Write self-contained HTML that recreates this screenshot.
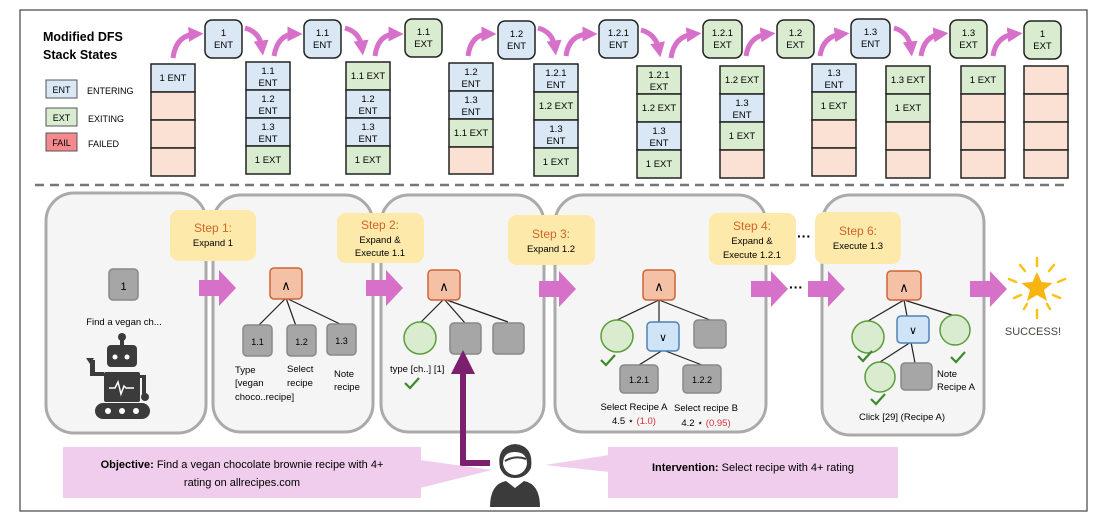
<!DOCTYPE html>
<html><head><meta charset="utf-8"><style>
html,body{margin:0;padding:0;background:#fff;}
svg{display:block;font-family:"Liberation Sans",Arial,sans-serif;}
</style></head><body>
<svg width="1099" height="522" viewBox="0 0 1099 522" xmlns="http://www.w3.org/2000/svg">
<defs>
<marker id="ah" markerWidth="3" markerHeight="3" refX="1.5" refY="1.5" orient="auto" markerUnits="strokeWidth"><path d="M0,0 L3,1.5 L0,3 z" fill="#d670c8"/></marker>
<marker id="pa" markerWidth="4" markerHeight="4" refX="1" refY="2" orient="auto" markerUnits="strokeWidth"><path d="M0,0 L4,2 L0,4 z" fill="#7b1f6e"/></marker>
</defs>
<rect x="20" y="10" width="1067" height="501" fill="#fff" stroke="#444" stroke-width="1.2"/>
<line x1="35" y1="185" x2="1070" y2="185" stroke="#777" stroke-width="2.5" stroke-dasharray="9,6"/>

<text x="43" y="41" font-size="12.5" font-weight="bold">Modified DFS</text>
<text x="43" y="59" font-size="12.5" font-weight="bold">Stack States</text>
<g font-size="9">
<rect x="46" y="80" width="31" height="18" fill="#dae8f5" stroke="#555"/><text x="61.5" y="93" text-anchor="middle">ENT</text><text x="87" y="94">ENTERING</text>
<rect x="46" y="108" width="31" height="18" fill="#d9ecd0" stroke="#555"/><text x="61.5" y="121" text-anchor="middle">EXT</text><text x="88" y="122">EXITING</text>
<rect x="46" y="133" width="31" height="18" fill="#f48a8e" stroke="#555"/><text x="61.5" y="146" text-anchor="middle">FAIL</text><text x="88" y="147">FAILED</text>
</g>

<g stroke="#222" stroke-width="1.5" font-size="9.5" text-anchor="middle">
<g transform="translate(151,64)"><rect width="44" height="28" fill="#dae8f5"/><text x="22" y="17" stroke="none">1 ENT</text><rect y="28" width="44" height="28" fill="#fbe0d4"/><rect y="56" width="44" height="28" fill="#fbe0d4"/><rect y="84" width="44" height="28" fill="#fbe0d4"/></g>
<g transform="translate(246,62)"><rect width="44" height="28" fill="#dae8f5"/><text x="22" y="12" stroke="none">1.1</text><text x="22" y="24" stroke="none">ENT</text><rect y="28" width="44" height="28" fill="#dae8f5"/><text x="22" y="40" stroke="none">1.2</text><text x="22" y="52" stroke="none">ENT</text><rect y="56" width="44" height="28" fill="#dae8f5"/><text x="22" y="68" stroke="none">1.3</text><text x="22" y="80" stroke="none">ENT</text><rect y="84" width="44" height="28" fill="#d9ecd0"/><text x="22" y="101" stroke="none">1 EXT</text></g>
<g transform="translate(346,62)"><rect width="44" height="28" fill="#d9ecd0"/><text x="22" y="17" stroke="none">1.1 EXT</text><rect y="28" width="44" height="28" fill="#dae8f5"/><text x="22" y="40" stroke="none">1.2</text><text x="22" y="52" stroke="none">ENT</text><rect y="56" width="44" height="28" fill="#dae8f5"/><text x="22" y="68" stroke="none">1.3</text><text x="22" y="80" stroke="none">ENT</text><rect y="84" width="44" height="28" fill="#d9ecd0"/><text x="22" y="101" stroke="none">1 EXT</text></g>
<g transform="translate(449,63)"><rect width="44" height="28" fill="#dae8f5"/><text x="22" y="12" stroke="none">1.2</text><text x="22" y="24" stroke="none">ENT</text><rect y="28" width="44" height="28" fill="#dae8f5"/><text x="22" y="40" stroke="none">1.3</text><text x="22" y="52" stroke="none">ENT</text><rect y="56" width="44" height="28" fill="#d9ecd0"/><text x="22" y="73" stroke="none">1.1 EXT</text><rect y="84" width="44" height="27" fill="#fbe0d4"/></g>
<g transform="translate(534,64)"><rect width="44" height="28" fill="#dae8f5"/><text x="22" y="12" stroke="none">1.2.1</text><text x="22" y="24" stroke="none">ENT</text><rect y="28" width="44" height="28" fill="#d9ecd0"/><text x="22" y="45" stroke="none">1.2 EXT</text><rect y="56" width="44" height="28" fill="#dae8f5"/><text x="22" y="68" stroke="none">1.3</text><text x="22" y="80" stroke="none">ENT</text><rect y="84" width="44" height="28" fill="#d9ecd0"/><text x="22" y="101" stroke="none">1 EXT</text></g>
<g transform="translate(637,66)"><rect width="44" height="28" fill="#d9ecd0"/><text x="22" y="12" stroke="none">1.2.1</text><text x="22" y="24" stroke="none">EXT</text><rect y="28" width="44" height="28" fill="#d9ecd0"/><text x="22" y="45" stroke="none">1.2 EXT</text><rect y="56" width="44" height="28" fill="#dae8f5"/><text x="22" y="68" stroke="none">1.3</text><text x="22" y="80" stroke="none">ENT</text><rect y="84" width="44" height="28" fill="#d9ecd0"/><text x="22" y="101" stroke="none">1 EXT</text></g>
<g transform="translate(720,66)"><rect width="44" height="28" fill="#d9ecd0"/><text x="22" y="17" stroke="none">1.2 EXT</text><rect y="28" width="44" height="28" fill="#dae8f5"/><text x="22" y="40" stroke="none">1.3</text><text x="22" y="52" stroke="none">ENT</text><rect y="56" width="44" height="28" fill="#d9ecd0"/><text x="22" y="73" stroke="none">1 EXT</text><rect y="84" width="44" height="28" fill="#fbe0d4"/></g>
<g transform="translate(812,64)"><rect width="44" height="28" fill="#dae8f5"/><text x="22" y="12" stroke="none">1.3</text><text x="22" y="24" stroke="none">ENT</text><rect y="28" width="44" height="28" fill="#d9ecd0"/><text x="22" y="45" stroke="none">1 EXT</text><rect y="56" width="44" height="28" fill="#fbe0d4"/><rect y="84" width="44" height="28" fill="#fbe0d4"/></g>
<g transform="translate(886,66)"><rect width="44" height="28" fill="#d9ecd0"/><text x="22" y="17" stroke="none">1.3 EXT</text><rect y="28" width="44" height="28" fill="#d9ecd0"/><text x="22" y="45" stroke="none">1 EXT</text><rect y="56" width="44" height="28" fill="#fbe0d4"/><rect y="84" width="44" height="28" fill="#fbe0d4"/></g>
<g transform="translate(961,66)"><rect width="44" height="28" fill="#d9ecd0"/><text x="22" y="17" stroke="none">1 EXT</text><rect y="28" width="44" height="28" fill="#fbe0d4"/><rect y="56" width="44" height="28" fill="#fbe0d4"/><rect y="84" width="44" height="28" fill="#fbe0d4"/></g>
<g transform="translate(1024,66)"><rect width="44" height="28" fill="#fbe0d4"/><rect y="28" width="44" height="28" fill="#fbe0d4"/><rect y="56" width="44" height="28" fill="#fbe0d4"/><rect y="84" width="44" height="28" fill="#fbe0d4"/></g>

<g transform="translate(205,20)"><rect width="37" height="38" rx="7" fill="#dae8f5"/><text x="18.5" y="16" stroke="none">1</text><text x="18.5" y="28" stroke="none">ENT</text></g>
<g transform="translate(304,20)"><rect width="37" height="38" rx="7" fill="#dae8f5"/><text x="18.5" y="16" stroke="none">1.1</text><text x="18.5" y="28" stroke="none">ENT</text></g>
<g transform="translate(405,19)"><rect width="37" height="38" rx="7" fill="#d9ecd0"/><text x="18.5" y="16" stroke="none">1.1</text><text x="18.5" y="28" stroke="none">EXT</text></g>
<g transform="translate(498,21)"><rect width="37" height="38" rx="7" fill="#dae8f5"/><text x="18.5" y="16" stroke="none">1.2</text><text x="18.5" y="28" stroke="none">ENT</text></g>
<g transform="translate(599,20)"><rect width="39" height="38" rx="7" fill="#dae8f5"/><text x="19.5" y="16" stroke="none">1.2.1</text><text x="19.5" y="28" stroke="none">ENT</text></g>
<g transform="translate(703,20)"><rect width="39" height="38" rx="7" fill="#d9ecd0"/><text x="19.5" y="16" stroke="none">1.2.1</text><text x="19.5" y="28" stroke="none">EXT</text></g>
<g transform="translate(777,20)"><rect width="37" height="38" rx="7" fill="#d9ecd0"/><text x="18.5" y="16" stroke="none">1.2</text><text x="18.5" y="28" stroke="none">EXT</text></g>
<g transform="translate(851,19)"><rect width="39" height="39" rx="7" fill="#dae8f5"/><text x="19.5" y="16" stroke="none">1.3</text><text x="19.5" y="28" stroke="none">ENT</text></g>
<g transform="translate(950,20)"><rect width="37" height="38" rx="7" fill="#d9ecd0"/><text x="18.5" y="16" stroke="none">1.3</text><text x="18.5" y="28" stroke="none">EXT</text></g>
<g transform="translate(1024,21)"><rect width="37" height="38" rx="7" fill="#d9ecd0"/><text x="18.5" y="16" stroke="none">1</text><text x="18.5" y="28" stroke="none">EXT</text></g>
</g>

<g fill="none" stroke="#d670c8" stroke-width="5" marker-end="url(#ah)">
<path d="M173,58 Q176,35 196,34"/>
<path d="M245,28 Q260,32 262,48"/>
<path d="M274,56 Q278,34 295,34"/>
<path d="M345,28 Q360,32 362,48"/>
<path d="M375,56 Q378,34 396,34"/>
<path d="M468,56 Q471,34 489,34"/>
<path d="M538,28 Q553,32 555,48"/>
<path d="M566,56 Q569,34 590,34"/>
<path d="M641,30 Q656,34 659,50"/>
<path d="M671,58 Q674,36 694,34"/>
<path d="M746,56 Q749,36 768,34"/>
<path d="M820,56 Q823,36 842,34"/>
<path d="M894,28 Q909,32 911,49"/>
<path d="M921,56 Q924,36 941,34"/>
<path d="M993,56 Q996,36 1015,34"/>
</g>

<g fill="#f5f5f5" stroke="#aaa" stroke-width="3">
<rect x="46" y="193" width="160" height="240" rx="28"/>
<rect x="213" y="195" width="160" height="237" rx="28"/>
<rect x="381" y="195" width="163" height="237" rx="28"/>
<rect x="555" y="195" width="211" height="237" rx="28"/>
<rect x="822" y="195" width="162" height="240" rx="28"/>
</g>

<g font-size="9.5" text-anchor="middle">
<rect x="170" y="210" width="86" height="51" rx="9" fill="#fde9aa"/><text x="213" y="232" font-size="12" fill="#d0652a">Step 1:</text><text x="213" y="246">Expand 1</text>
<rect x="337" y="213" width="87" height="50" rx="9" fill="#fde9aa"/><text x="380" y="229" font-size="12" fill="#d0652a">Step 2:</text><text x="380" y="243">Expand &amp;</text><text x="380" y="256">Execute 1.1</text>
<rect x="508" y="215" width="87" height="50" rx="9" fill="#fde9aa"/><text x="551" y="238" font-size="12" fill="#d0652a">Step 3:</text><text x="551" y="252">Expand 1.2</text>
<rect x="709" y="213" width="87" height="52" rx="9" fill="#fde9aa"/><text x="752" y="230" font-size="12" fill="#d0652a">Step 4:</text><text x="752" y="244">Expand &amp;</text><text x="752" y="258">Execute 1.2.1</text>
<rect x="815" y="212" width="86" height="52" rx="9" fill="#fde9aa"/><text x="858" y="235" font-size="12" fill="#d0652a">Step 6:</text><text x="858" y="249">Execute 1.3</text>
</g>
<text x="797" y="241" font-size="14" font-weight="bold">···</text>
<text x="789" y="292" font-size="14" font-weight="bold">···</text>

<g fill="#d670c8">
<path d="M199,280 h20 v-10 l17,18 l-17,18 v-10 h-20 z"/>
<path d="M366,280 h20 v-10 l17,18 l-17,18 v-10 h-20 z"/>
<path d="M539,281 h20 v-10 l17,18 l-17,18 v-10 h-20 z"/>
<path d="M751,281 h20 v-10 l17,18 l-17,18 v-10 h-20 z"/>
<path d="M808,281 h20 v-10 l17,18 l-17,18 v-10 h-20 z"/>
<path d="M970,281 h20 v-10 l17,18 l-17,18 v-10 h-20 z"/>
</g>

<rect x="109" y="269" width="29" height="31" rx="4" fill="#a6a6a6" stroke="#888" stroke-width="1.5"/>
<text x="123.5" y="290" font-size="11" text-anchor="middle">1</text>
<text x="124" y="325" font-size="9.5" text-anchor="middle">Find a vegan ch...</text>
<g fill="#3b3b3b">
<circle cx="122" cy="337" r="4"/><rect x="120" y="338" width="4" height="8"/>
<rect x="107" y="345" width="30" height="22" rx="4"/>
<circle cx="115" cy="357" r="2.5" fill="#fff"/><circle cx="127" cy="357" r="2.5" fill="#fff"/>
<rect x="104" y="372" width="36" height="30" rx="2"/>
<path d="M90,360 v16 h14 v-4 h-9 v-12 z"/><path d="M86,358 l4,6 4,-6 z"/>
<path d="M140,375 h6 v19 h-4 v-16 h-2 z"/><circle cx="145" cy="397" r="4"/>
<rect x="95" y="403" width="55" height="16" rx="8"/>
<circle cx="108" cy="411" r="3" fill="#fff"/><circle cx="122" cy="411" r="3" fill="#fff"/><circle cx="136" cy="411" r="3" fill="#fff"/>
</g>
<path d="M109,388 h6 l3,-6 3,12 3,-8 2,2 h8" fill="none" stroke="#fff" stroke-width="1.5"/>

<g stroke="#222" stroke-width="1.2"><line x1="286" y1="298" x2="258" y2="326"/><line x1="286" y1="298" x2="296" y2="326"/><line x1="286" y1="298" x2="340" y2="324"/></g>
<rect x="270" y="268" width="32" height="31" rx="4" fill="#f5c1a6" stroke="#cf6434" stroke-width="1.5"/><text x="286" y="290" font-size="13" text-anchor="middle">∧</text>
<g fill="#a6a6a6" stroke="#888" stroke-width="1.5"><rect x="243" y="325" width="29" height="31" rx="4"/><rect x="287" y="325" width="29" height="31" rx="4"/><rect x="327" y="324" width="29" height="31" rx="4"/></g>
<g font-size="9" text-anchor="middle"><text x="257.5" y="345">1.1</text><text x="301.5" y="345">1.2</text><text x="341.5" y="344">1.3</text></g>
<g font-size="9.5"><text x="235" y="373">Type</text><text x="235" y="386">[vegan</text><text x="235" y="400">choco..recipe]</text><text x="287" y="372">Select</text><text x="287" y="386">recipe</text><text x="334" y="377">Note</text><text x="334" y="390">recipe</text></g>

<g stroke="#222" stroke-width="1.2"><line x1="444" y1="299" x2="421" y2="322"/><line x1="444" y1="299" x2="465" y2="323"/><line x1="444" y1="299" x2="508" y2="322"/></g>
<rect x="428" y="270" width="32" height="30" rx="4" fill="#f5c1a6" stroke="#cf6434" stroke-width="1.5"/><text x="444" y="291" font-size="13" text-anchor="middle">∧</text>
<circle cx="420" cy="338" r="16" fill="#d9ecd0" stroke="#5a9d3a" stroke-width="1.5"/>
<g fill="#a6a6a6" stroke="#888" stroke-width="1.5"><rect x="450" y="323" width="31" height="31" rx="4"/><rect x="493" y="323" width="31" height="31" rx="4"/></g>
<text x="390" y="372" font-size="9.5">type [ch..] [1]</text>
<path d="M405,383 l5,5 9,-10" fill="none" stroke="#3c8a2c" stroke-width="2.2"/>

<path d="M490,463 H463 V368" fill="none" stroke="#7b1f6e" stroke-width="6" marker-end="url(#pa)"/>

<g stroke="#222" stroke-width="1.2"><line x1="659" y1="300" x2="617" y2="320"/><line x1="659" y1="300" x2="659" y2="322"/><line x1="659" y1="300" x2="710" y2="320"/><line x1="663" y1="350" x2="639" y2="365"/><line x1="663" y1="350" x2="702" y2="365"/></g>
<rect x="643" y="270" width="32" height="30" rx="4" fill="#f5c1a6" stroke="#cf6434" stroke-width="1.5"/><text x="659" y="291" font-size="13" text-anchor="middle">∧</text>
<circle cx="617" cy="336" r="16" fill="#d9ecd0" stroke="#5a9d3a" stroke-width="1.5"/>
<rect x="647" y="322" width="32" height="29" rx="4" fill="#cfe4f7" stroke="#4f82b6" stroke-width="1.5"/><text x="663" y="341" font-size="11" text-anchor="middle">∨</text>
<rect x="694" y="320" width="32" height="28" rx="4" fill="#a6a6a6" stroke="#888" stroke-width="1.5"/>
<path d="M601,360 l5,5 9,-10" fill="none" stroke="#3c8a2c" stroke-width="2.2"/>
<g fill="#a6a6a6" stroke="#888" stroke-width="1.5"><rect x="620" y="365" width="38" height="28" rx="4"/><rect x="683" y="365" width="38" height="28" rx="4"/></g>
<g font-size="9" text-anchor="middle"><text x="639" y="383">1.2.1</text><text x="702" y="383">1.2.2</text></g>
<g font-size="9.5" text-anchor="middle">
<text x="634" y="410">Select Recipe A</text><text x="634" y="424">4.5 ⋆ <tspan fill="#d0333a">(1.0)</tspan></text>
<text x="706" y="411">Select recipe B</text><text x="706" y="426">4.2 ⋆ <tspan fill="#d0333a">(0.95)</tspan></text>
</g>

<g stroke="#222" stroke-width="1.2"><line x1="904" y1="300" x2="868" y2="321"/><line x1="904" y1="300" x2="907" y2="316"/><line x1="904" y1="300" x2="952" y2="315"/><line x1="911" y1="342" x2="880" y2="362"/><line x1="911" y1="342" x2="915" y2="363"/></g>
<rect x="887" y="271" width="34" height="29" rx="4" fill="#f5c1a6" stroke="#cf6434" stroke-width="1.5"/><text x="904" y="292" font-size="13" text-anchor="middle">∧</text>
<circle cx="868" cy="337" r="16" fill="#d9ecd0" stroke="#5a9d3a" stroke-width="1.5"/>
<rect x="897" y="316" width="32" height="27" rx="4" fill="#cfe4f7" stroke="#4f82b6" stroke-width="1.5"/><text x="913" y="334" font-size="11" text-anchor="middle">∨</text>
<circle cx="955" cy="330" r="15" fill="#d9ecd0" stroke="#5a9d3a" stroke-width="1.5"/>
<circle cx="880" cy="377" r="15" fill="#d9ecd0" stroke="#5a9d3a" stroke-width="1.5"/>
<rect x="901" y="363" width="31" height="27" rx="4" fill="#a6a6a6" stroke="#888" stroke-width="1.5"/>
<g fill="none" stroke="#3c8a2c" stroke-width="2.2"><path d="M858,356 l5,5 9,-10"/><path d="M951,357 l5,5 9,-10"/><path d="M871,399 l5,5 9,-10"/></g>
<text x="937" y="377" font-size="9.5">Note</text><text x="937" y="390" font-size="9.5">Recipe A</text>
<text x="902" y="420" font-size="9.5" text-anchor="middle">Click [29] (Recipe A)</text>

<g stroke="#f7c21a" stroke-width="2.5" stroke-linecap="round">
<line x1="1037" y1="258" x2="1037" y2="266"/><line x1="1037" y1="310" x2="1037" y2="318"/>
<line x1="1009" y1="279" x2="1016" y2="282"/><line x1="1058" y1="282" x2="1065" y2="279"/>
<line x1="1020" y1="265" x2="1025" y2="271"/><line x1="1049" y1="271" x2="1054" y2="265"/>
<line x1="1014" y1="298" x2="1021" y2="295"/><line x1="1053" y1="295" x2="1060" y2="298"/>
<line x1="1024" y1="309" x2="1027" y2="304"/><line x1="1047" y1="304" x2="1050" y2="309"/>
</g>
<path d="M1037,272 l4.5,10 11,1 -8.5,7 3,11 -10,-6 -10,6 3,-11 -8.5,-7 11,-1 z" fill="#f7b512"/>
<text x="1033" y="335" font-size="11" fill="#3a4a3a" text-anchor="middle">SUCCESS!</text>

<path d="M420,460 L492,470 L420,488 z" fill="#f0cdec"/>
<rect x="63" y="447" width="358" height="51" fill="#f0cdec"/>
<text x="242" y="468" font-size="11" text-anchor="middle"><tspan font-weight="bold">Objective:</tspan> Find a vegan chocolate brownie recipe with 4+</text>
<text x="242" y="486" font-size="11" text-anchor="middle">rating on allrecipes.com</text>
<path d="M609,455 L545,465 L609,472 z" fill="#f0cdec"/>
<rect x="608" y="447" width="290" height="51" fill="#f0cdec"/>
<text x="753" y="471" font-size="11" text-anchor="middle"><tspan font-weight="bold">Intervention:</tspan> Select recipe with 4+ rating</text>

<g fill="#3b3b3b">
<path d="M500,468 Q496,446 515,444 Q534,446 531,468 Q526,478 515,478 Q504,478 500,468 z"/>
<path d="M490,507 Q490,484 506,481 L515,488 L524,481 Q540,484 540,507 z"/>
</g>
<path d="M503,464 Q503,452 515,452 Q527,452 527,464 Q525,474 515,475 Q505,474 503,464 z" fill="#fff"/>
<path d="M505,461 Q515,455 526,459" fill="none" stroke="#3b3b3b" stroke-width="2"/>
</svg>
</body></html>
